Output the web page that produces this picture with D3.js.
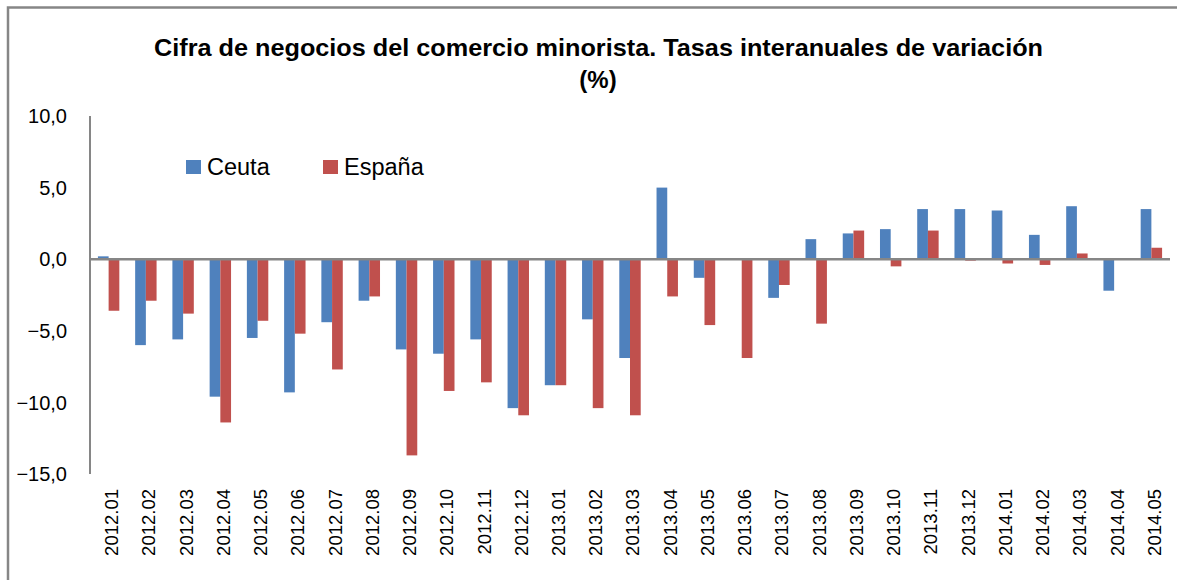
<!DOCTYPE html>
<html>
<head>
<meta charset="utf-8">
<script src="https://cdn.jsdelivr.net/npm/d3@7"></script>
<style>
  body { margin: 0; background: #fff; }
  text { font-family: "Liberation Sans", Arial, sans-serif; fill: #000; }
</style>
</head>
<body>
<svg id="chart"></svg>
<script>
// Categories (months)
const months = ["2012.01","2012.02","2012.03","2012.04","2012.05","2012.06","2012.07","2012.08","2012.09","2012.10",
  "2012.11","2012.12","2013.01","2013.02","2013.03","2013.04","2013.05","2013.06","2013.07","2013.08",
  "2013.09","2013.10","2013.11","2013.12","2014.01","2014.02","2014.03","2014.04","2014.05"];

// Series values
const ceuta = [0.2, -6.0, -5.6, -9.6, -5.5, -9.3, -4.4, -2.9, -6.3, -6.6,
  -5.6, -10.4, -8.8, -4.2, -6.9, 5.0, -1.3, -0.05, -2.7, 1.4,
  1.8, 2.1, 3.5, 3.5, 3.4, 1.7, 3.7, -2.2, 3.5];
const espana = [-3.6, -2.9, -3.8, -11.4, -4.3, -5.2, -7.7, -2.6, -13.7, -9.2,
  -8.6, -10.9, -8.8, -10.4, -10.9, -2.6, -4.6, -6.9, -1.8, -4.5,
  2.0, -0.5, 2.0, -0.1, -0.3, -0.4, 0.4, 0.0, 0.8];

const seriesNames = ["Ceuta", "España"];
const seriesColors = ["#4F81BD", "#C0504D"];
const yTicks = [10, 5, 0, -5, -10, -15];

const W = 1177, H = 580;
const margin = { top: 116, left: 90, right: 7, bottom: 106 };

const svg = d3.select('#chart')
  .attr('width', W)
  .attr('height', H);

// outer chart frame (right/bottom edges fall outside the picture)
svg.append('rect')
  .attr('x', 8).attr('y', 7.5)
  .attr('width', 1300).attr('height', 700)
  .attr('fill', 'none')
  .attr('stroke', '#868686')
  .attr('stroke-width', 2.5);

// Title
svg.append('text')
  .attr('x', 154).attr('y', 56)
  .attr('textLength', 889)
  .attr('lengthAdjust', 'spacingAndGlyphs')
  .style('font-size', '24px')
  .style('font-weight', 'bold')
  .text('Cifra de negocios del comercio minorista. Tasas interanuales de variación');
svg.append('text')
  .attr('x', 598).attr('y', 88)
  .attr('text-anchor', 'middle')
  .style('font-size', '24px')
  .style('font-weight', 'bold')
  .text('(%)');

const x0 = d3.scaleBand()
  .domain(months)
  .range([margin.left, W - margin.right])
  .paddingInner(0.425)
  .paddingOuter(0.2125);

const x1 = d3.scaleBand()
  .domain(seriesNames)
  .range([0, x0.bandwidth()]);

const y = d3.scaleLinear()
  .domain([-15, 10])
  .range([474, 116]);

// Y tick labels
svg.append('g')
  .selectAll('text')
  .data(yTicks)
  .join('text')
  .attr('x', 67)
  .attr('y', d => y(d))
  .attr('dy', '0.36em')
  .attr('text-anchor', 'end')
  .style('font-size', '20px')
  .text(d => d3.format('.1f')(d).replace('.', ','));

// Bars
const rows = months.map((m, i) => ({ month: m, values: [ceuta[i], espana[i]] }));
const groups = svg.append('g')
  .selectAll('g')
  .data(rows)
  .join('g')
  .attr('transform', d => `translate(${x0(d.month)},0)`);

groups.selectAll('rect')
  .data(d => d.values.map((v, k) => ({ key: seriesNames[k], value: v, k })))
  .join('rect')
  .attr('x', d => x1(d.key))
  .attr('width', x1.bandwidth())
  .attr('y', d => y(Math.max(0, d.value)))
  .attr('height', d => Math.abs(y(d.value) - y(0)))
  .attr('fill', d => seriesColors[d.k]);

// Y axis line
svg.append('line')
  .attr('x1', margin.left).attr('x2', margin.left)
  .attr('y1', y(10)).attr('y2', y(-15))
  .attr('stroke', '#868686')
  .attr('stroke-width', 2);

// Zero line
svg.append('line')
  .attr('x1', margin.left).attr('x2', W - margin.right)
  .attr('y1', y(0)).attr('y2', y(0))
  .attr('stroke', '#868686')
  .attr('stroke-width', 2.5);

// X labels, rotated
svg.append('g')
  .selectAll('text')
  .data(months)
  .join('text')
  .attr('transform', d => `translate(${x0(d) + x0.bandwidth() / 2 + 3},489) rotate(-90)`)
  .attr('text-anchor', 'end')
  .attr('dy', '0.35em')
  .style('font-size', '18.5px')
  .text(d => d);

// Legend
const legend = svg.append('g');
const legendX = [186, 323];
seriesNames.forEach((name, i) => {
  legend.append('rect')
    .attr('x', legendX[i]).attr('y', 160)
    .attr('width', 15).attr('height', 14)
    .attr('fill', seriesColors[i]);
  legend.append('text')
    .attr('x', legendX[i] + 21).attr('y', 175)
    .style('font-size', '23.5px')
    .text(name);
});
</script>
</body>
</html>
